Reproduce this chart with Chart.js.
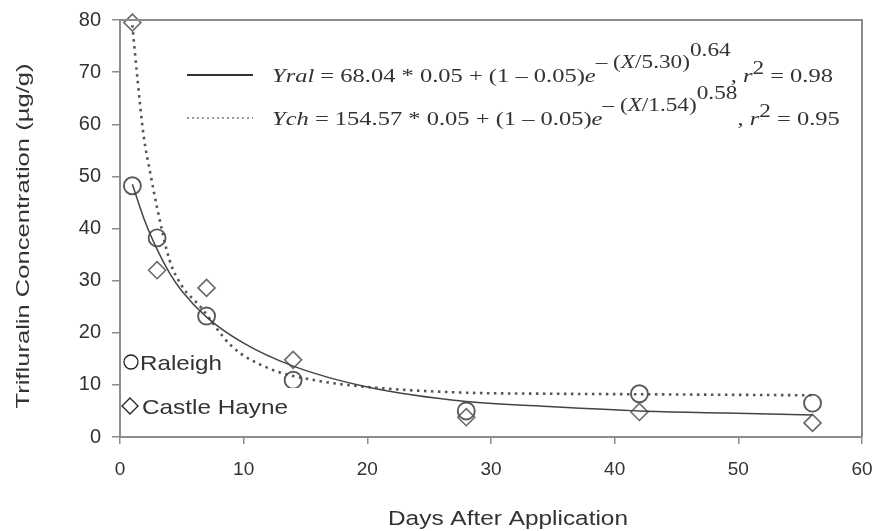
<!DOCTYPE html>
<html><head><meta charset="utf-8">
<script src="https://cdn.jsdelivr.net/npm/chart.js@4/dist/chart.umd.min.js"></script>
<style>html,body{margin:0;padding:0;background:#fff;overflow:hidden}#wrap{width:878px;height:531px;position:relative}</style>
</head><body><div id="wrap"><canvas id="c"></canvas></div>
<script>
// ---- data ----
const raleighDays = [1, 3, 7, 14, 28, 42, 56];
const raleighConc = [48.2, 38.2, 23.2, 10.9, 5.0, 8.3, 6.5];
const castleDays = [1, 3, 7, 14, 28, 42, 56];
const castleConc = [79.5, 32.0, 28.6, 14.8, 3.8, 4.8, 2.7];
const fitRalDays = [1, 2, 3, 4, 5, 7, 10, 14, 20, 28, 35, 42, 49, 56];
const fitRalConc = [48.5, 41.5, 36, 31.5, 28, 23, 18, 13.6, 9.6, 6.8, 5.8, 5.0, 4.6, 4.2];
const fitChDays = [1, 1.4, 1.9, 2.5, 3, 4, 5, 6.5, 9, 12, 16, 21, 28, 35, 42, 49, 56];
const fitChConc = [79, 69, 58, 50, 44, 34, 29, 25, 17.5, 13.2, 10.8, 9.4, 8.5, 8.3, 8.2, 8.1, 8.0];
const xTicks = [0, 10, 20, 30, 40, 50, 60];
const yTicks = [0, 10, 20, 30, 40, 50, 60, 70, 80];
const seriesNames = ['Raleigh', 'Castle Hayne'];
const xTitle = 'Days After Application';
const yTitle = 'Trifluralin Concentration (\u00b5g/g)';
// equation segments: [text, italic, level]
const eqRal = [['Yral', 1, 0], [' = 68.04 * 0.05 + (1 \u2013 0.05)', 0, 0], ['e', 1, 0], ['\u2013 (', 0, 1], ['X', 1, 1], ['/5.30)', 0, 1], ['0.64', 0, 2], [', ', 0, 0], ['r', 1, 0], ['2', 0, 1.5], [' = 0.98', 0, 0]];
const eqCh = [['Ych', 1, 0], [' = 154.57 * 0.05 + (1 \u2013 0.05)', 0, 0], ['e', 1, 0], ['\u2013 (', 0, 1], ['X', 1, 1], ['/1.54)', 0, 1], ['0.58', 0, 2], [', ', 0, 0], ['r', 1, 0], ['2', 0, 1.5], [' = 0.95', 0, 0]];

const pts = (xs, ys) => xs.map((x, i) => ({x: x, y: ys[i]}));
const INK = '#333';
const AXIS = '#8c8c8c';

function drawStretched(ctx, text, x, y, font, targetW, align) {
  ctx.save();
  ctx.font = font;
  const w = ctx.measureText(text).width;
  const sx = targetW ? targetW / w : 1;
  ctx.translate(x, y);
  ctx.scale(sx, 1);
  ctx.textAlign = align || 'left';
  ctx.fillText(text, 0, 0);
  ctx.restore();
}

function segFont(s, size) {
  const sz = s[2] === 0 ? size : size * 0.95;
  return (s[1] ? 'italic ' : '') + sz + 'px "Liberation Serif", "Times New Roman", serif';
}
function eqWidth(ctx, segs, size) {
  let w = 0;
  segs.forEach(s => { ctx.font = segFont(s, size); w += ctx.measureText(s[0]).width; });
  return w;
}
function drawEq(ctx, segs, x0, base, size, sx) {
  ctx.save();
  ctx.translate(x0, base);
  ctx.scale(sx, 1);
  let x = 0;
  const off = {0: 0, 1: -14, 1.5: -8, 2: -26};
  segs.forEach(s => {
    ctx.font = segFont(s, size);
    ctx.fillText(s[0], x, off[s[2]]);
    x += ctx.measureText(s[0]).width;
  });
  ctx.restore();
}

const decor = {
  id: 'decor',
  afterDraw(chart) {
    const ctx = chart.ctx, a = chart.chartArea;
    ctx.save();
    // box top/right
    ctx.strokeStyle = AXIS; ctx.lineWidth = 2;
    ctx.beginPath();
    ctx.moveTo(a.left, a.top); ctx.lineTo(a.right, a.top); ctx.lineTo(a.right, a.bottom);
    ctx.stroke();
    // equation legend
    ctx.fillStyle = INK;
    ctx.textBaseline = 'alphabetic';
    const size = 19;
    const w = eqWidth(ctx, eqRal, size);
    const sx = 561 / w;
    ctx.strokeStyle = '#333'; ctx.lineWidth = 1.8; ctx.setLineDash([]);
    ctx.beginPath(); ctx.moveTo(187, 75); ctx.lineTo(253, 75); ctx.stroke();
    ctx.strokeStyle = '#777'; ctx.lineWidth = 1.6; ctx.setLineDash([2, 3]);
    ctx.beginPath(); ctx.moveTo(187, 118); ctx.lineTo(253, 118); ctx.stroke();
    ctx.setLineDash([]);
    drawEq(ctx, eqRal, 272, 82, size, sx);
    drawEq(ctx, eqCh, 272, 125, size, sx);
    // series legend (bottom-left)
    ctx.fillStyle = '#fff';
    ctx.fillRect(121, 347, 104, 35);
    ctx.fillRect(121, 388, 178, 34);
    ctx.strokeStyle = '#222'; ctx.lineWidth = 1.3;
    ctx.beginPath(); ctx.arc(131, 362, 7, 0, Math.PI * 2); ctx.stroke();
    ctx.beginPath(); ctx.moveTo(130, 398); ctx.lineTo(138, 406); ctx.lineTo(130, 414); ctx.lineTo(122, 406); ctx.closePath(); ctx.stroke();
    ctx.fillStyle = '#333';
    drawStretched(ctx, seriesNames[0], 140, 370, '21px "Liberation Sans", Arial, sans-serif', 82);
    drawStretched(ctx, seriesNames[1], 142, 414, '21px "Liberation Sans", Arial, sans-serif', 146);
    // axis titles
    drawStretched(ctx, xTitle, 508, 525, '20px "Liberation Sans", Arial, sans-serif', 240, 'center');
    ctx.save();
    ctx.translate(29, 236);
    ctx.rotate(-Math.PI / 2);
    drawStretched(ctx, yTitle, 0, 0, '18px "Liberation Sans", Arial, sans-serif', 345, 'center');
    ctx.restore();
    ctx.restore();
  }
};

new Chart(document.getElementById('c'), {
  type: 'scatter',
  data: {
    datasets: [
      {label: 'Yral fit', data: pts(fitRalDays, fitRalConc), showLine: true, pointRadius: 0, borderColor: '#444', borderWidth: 1.5, cubicInterpolationMode: 'monotone', fill: false},
      {label: 'Ych fit', data: pts(fitChDays, fitChConc), showLine: true, pointRadius: 0, borderColor: '#555', borderWidth: 2.6, borderDash: [2.5, 4.5], cubicInterpolationMode: 'monotone', fill: false},
      {label: seriesNames[0], data: pts(raleighDays, raleighConc), pointStyle: 'circle', pointRadius: 8.5, borderColor: '#5a5a5a', borderWidth: 1.9, backgroundColor: 'rgba(255,255,255,0)'},
      {label: seriesNames[1], data: pts(castleDays, castleConc), pointStyle: 'rectRot', pointRadius: 8.5, borderColor: '#6a6a6a', borderWidth: 1.6, backgroundColor: 'rgba(255,255,255,0)'}
    ]
  },
  options: {
    responsive: true, maintainAspectRatio: false, animation: false,
    clip: false,
    layout: {padding: {left: 0, top: 20, right: 16, bottom: 0}},
    plugins: {legend: {display: false}, tooltip: {enabled: false}},
    scales: {
      x: {
        type: 'linear', min: 0, max: 60,
        afterBuildTicks: s => { s.ticks = xTicks.map(v => ({value: v})); },
        afterFit: s => { s.height = 94; s.paddingLeft = 0; s.paddingRight = 0; },
        grid: {drawOnChartArea: false, drawTicks: true, tickLength: 7, color: AXIS, lineWidth: 1.5},
        border: {color: AXIS, width: 2},
        ticks: {color: '#333', padding: 14, font: {size: 19, family: '"Liberation Sans", Arial, sans-serif'}, maxRotation: 0}
      },
      y: {
        type: 'linear', min: 0, max: 80,
        afterBuildTicks: s => { s.ticks = yTicks.map(v => ({value: v})); },
        afterFit: s => { s.width = 120; s.paddingTop = 0; s.paddingBottom = 0; },
        grid: {drawOnChartArea: false, drawTicks: true, tickLength: 8, color: AXIS, lineWidth: 1.5},
        border: {color: AXIS, width: 2},
        ticks: {color: '#333', padding: 11, font: {size: 20, family: '"Liberation Sans", Arial, sans-serif'}}
      }
    }
  },
  plugins: [decor]
});
</script></body></html>
